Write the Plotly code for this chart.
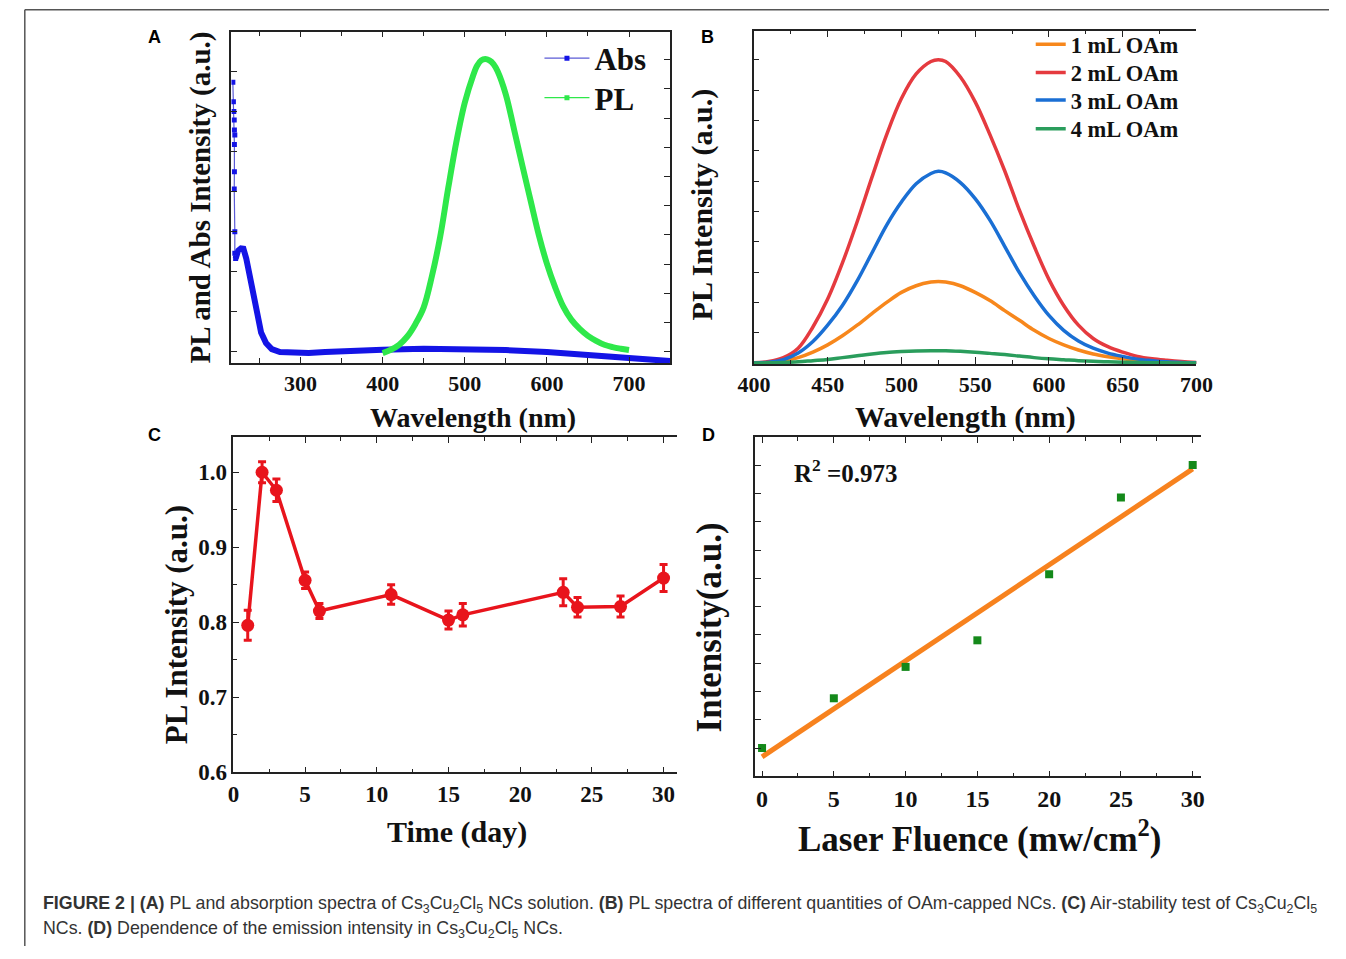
import numpy as np
import plotly.graph_objects as go

W, H = 1346, 959
SERIF = "Liberation Serif, Times New Roman, serif"
SANS = "Liberation Sans, Arial, sans-serif"

# ---------------- Panel A data ----------------
abs_noisy_wl = [217.6, 218.3, 218.8, 219.3, 219.5, 220.0, 219.5, 219.5, 219.3, 220.0, 220.0, 221.0]
abs_noisy_v = [0.847, 0.788, 0.759, 0.733, 0.703, 0.688, 0.659, 0.577, 0.525, 0.396, 0.331, 0.315]
abs_wl = [221, 224, 227.5, 230.5, 234, 238, 242, 247, 252, 258, 265, 275, 290, 310, 330, 350,
          400, 450, 500, 550, 600, 650, 700, 750]
abs_v = [0.315, 0.339, 0.346, 0.345, 0.315, 0.262, 0.202, 0.143, 0.092, 0.060, 0.042, 0.033,
         0.030, 0.030, 0.033, 0.036, 0.040, 0.043, 0.043, 0.039, 0.033, 0.024, 0.015, 0.006]
pl_wl = [400, 410, 420, 430, 440, 450, 460, 470, 480, 490, 500, 510, 515, 520, 525, 530, 535,
         540, 550, 560, 570, 580, 590, 600, 610, 620, 630, 640, 650, 660, 670, 680, 690, 700]
pl_v = [0.030, 0.040, 0.055, 0.080, 0.118, 0.168, 0.262, 0.380, 0.530, 0.670, 0.785, 0.866,
        0.897, 0.913, 0.917, 0.913, 0.902, 0.880, 0.810, 0.705, 0.597, 0.492, 0.388, 0.300,
        0.229, 0.170, 0.130, 0.103, 0.082, 0.067, 0.055, 0.048, 0.043, 0.039]

# ---------------- Panel B data ----------------
b_wl = [400, 410, 420, 430, 440, 450, 460, 470, 480, 490, 500, 510, 520, 525, 530, 540, 550,
        560, 570, 580, 590, 600, 610, 620, 630, 640, 650, 660, 670, 680, 690, 700]
b_1ml = [0.000, 0.002, 0.008, 0.018, 0.036, 0.060, 0.090, 0.125, 0.163, 0.200, 0.233, 0.255,
         0.267, 0.269, 0.267, 0.255, 0.233, 0.206, 0.173, 0.141, 0.108, 0.081, 0.060, 0.043,
         0.030, 0.021, 0.014, 0.009, 0.005, 0.003, 0.001, 0.000]
b_2ml = [0.001, 0.005, 0.018, 0.049, 0.119, 0.211, 0.330, 0.466, 0.612, 0.753, 0.872, 0.953,
         0.994, 1.000, 0.994, 0.943, 0.861, 0.753, 0.634, 0.504, 0.385, 0.276, 0.190, 0.125,
         0.081, 0.054, 0.036, 0.022, 0.014, 0.009, 0.005, 0.002]
b_3ml = [0.000, 0.003, 0.011, 0.033, 0.071, 0.125, 0.190, 0.271, 0.363, 0.455, 0.531, 0.591,
         0.625, 0.632, 0.627, 0.595, 0.542, 0.471, 0.385, 0.298, 0.222, 0.157, 0.108, 0.073,
         0.049, 0.033, 0.022, 0.013, 0.008, 0.004, 0.002, 0.001]
b_4ml = [0.000, 0.001, 0.002, 0.004, 0.008, 0.012, 0.018, 0.024, 0.030, 0.035, 0.038, 0.040,
         0.041, 0.041, 0.041, 0.039, 0.036, 0.032, 0.028, 0.023, 0.018, 0.014, 0.011, 0.008,
         0.006, 0.004, 0.003, 0.002, 0.001, 0.001, 0.000, 0.000]
b_names = ["1 mL OAm", "2 mL OAm", "3 mL OAm", "4 mL OAm"]
b_colors = ["#f7871c", "#e53a3f", "#1a6fd4", "#2a9d5c"]

# ---------------- Panel C data ----------------
c_day = [1, 2, 3, 5, 6, 11, 15, 16, 23, 24, 27, 30]
c_pl = [0.796, 1.000, 0.976, 0.856, 0.815, 0.837, 0.803, 0.810, 0.840, 0.820, 0.821, 0.859]
c_err = [0.020, 0.014, 0.015, 0.011, 0.010, 0.013, 0.012, 0.015, 0.018, 0.013, 0.014, 0.018]

# ---------------- Panel D data ----------------
d_fluence = [0, 5, 10, 15, 20, 25, 30]
d_int = [1.00, 2.76, 3.87, 4.81, 7.15, 9.86, 11.01]
d_r2 = "0.973"


def X(px):
    return px / W


def Y(py):
    return 1 - py / H


fig = go.Figure()

# ---- A traces
fig.add_trace(go.Scatter(x=abs_wl, y=abs_v, mode="lines", line=dict(color="#1414e6", width=6),
                         showlegend=False, xaxis="x", yaxis="y"))
fig.add_trace(go.Scatter(x=abs_noisy_wl, y=abs_noisy_v, mode="lines+markers", name="Abs",
                         line=dict(color="#5b5bd6", width=1.2),
                         marker=dict(symbol="square", size=5, color="#1414e6"),
                         legend="legend", xaxis="x", yaxis="y"))
fig.add_trace(go.Scatter(x=pl_wl, y=pl_v, mode="lines", line=dict(color="#2ee84a", width=6, shape="spline"),
                         showlegend=False, xaxis="x", yaxis="y2"))
fig.add_trace(go.Scatter(x=[None], y=[None], mode="lines+markers", name="PL",
                         line=dict(color="#2ee84a", width=1.2),
                         marker=dict(symbol="square", size=5, color="#2ee84a"),
                         legend="legend2", xaxis="x", yaxis="y2"))

# ---- B traces (one legend box per entry so the spacing follows the reference)
for i, (vals, nm, col) in enumerate(zip([b_1ml, b_2ml, b_3ml, b_4ml], b_names, b_colors)):
    fig.add_trace(go.Scatter(x=b_wl, y=vals, mode="lines", name=nm,
                             line=dict(color=col, width=3.5, shape="spline"),
                             legend="legend%d" % (i + 3), xaxis="x3", yaxis="y3"))

# ---- C traces
fig.add_trace(go.Scatter(x=c_day, y=c_pl, mode="lines+markers", showlegend=False,
                         line=dict(color="#e8141c", width=3.5),
                         marker=dict(symbol="circle", size=13, color="#e8141c"),
                         error_y=dict(type="data", array=c_err, visible=True, color="#e8141c",
                                      thickness=3, width=4),
                         xaxis="x5", yaxis="y5"))

# ---- D traces
slope, intercept = np.polyfit(d_fluence, d_int, 1)
fit_x = [d_fluence[0], d_fluence[-1]]
fit_y = [intercept + slope * v for v in fit_x]
fig.add_trace(go.Scatter(x=fit_x, y=fit_y, mode="lines", showlegend=False,
                         line=dict(color="#f7821e", width=5), xaxis="x7", yaxis="y7"))
fig.add_trace(go.Scatter(x=d_fluence, y=d_int, mode="markers", showlegend=False,
                         marker=dict(symbol="square", size=8, color="#14891a"),
                         xaxis="x7", yaxis="y7"))

AX = dict(showgrid=False, zeroline=False, showline=True, linecolor="#222", linewidth=1.5,
          ticks="inside", tickcolor="#222", tickwidth=1.3)
TF = lambda s: dict(family=SERIF, size=s, color="#111", weight="bold")
MINOR = lambda d, l: dict(dtick=d, ticklen=l, ticks="inside", tickcolor="#222")


def LEG(x, y, size, iw):
    return dict(x=X(x), y=Y(y), xanchor="left", yanchor="top", bgcolor="rgba(0,0,0,0)",
                font=dict(family=SERIF, size=size, color="#111", weight="bold"),
                itemwidth=iw, tracegroupgap=0)


fig.update_layout(
    width=W, height=H, autosize=False, margin=dict(l=0, r=0, t=0, b=0),
    paper_bgcolor="white", plot_bgcolor="white", showlegend=True,
    # A
    xaxis=dict(AX, domain=[X(220), X(670)], range=[215.9, 750], anchor="y", tick0=0, dtick=100,
               ticklen=6, mirror="ticks", minor=MINOR(50, 5), tickfont=TF(22)),
    yaxis=dict(AX, domain=[Y(368), Y(32)], range=[0, 1], anchor="x", tick0=0.0357, dtick=0.1205,
               ticklen=6, showticklabels=False),
    yaxis2=dict(AX, overlaying="y", side="right", anchor="x", range=[0, 1], tick0=0.0336,
                dtick=0.0882, ticklen=6, showticklabels=False),
    # B
    xaxis3=dict(AX, domain=[X(756), X(1210)], range=[400, 700], anchor="y3", tick0=0, dtick=50,
                ticklen=7, mirror="ticks", minor=MINOR(25, 4), tickfont=TF(22)),
    yaxis3=dict(AX, domain=[Y(369), Y(31)], range=[-0.003, 1.096], anchor="x3", tick0=0, dtick=0.1,
                ticklen=5, showticklabels=False),
    yaxis4=dict(AX, overlaying="y3", side="right", anchor="x3", range=[-0.003, 1.096], tick0=0.107,
                dtick=0.1097, ticklen=5, showticklabels=False),
    # C
    xaxis5=dict(AX, domain=[X(222), X(677)], range=[0, 30.93], anchor="y5", tick0=0, dtick=5,
                ticklen=6, mirror="ticks", minor=MINOR(2.5, 4), tickfont=TF(23)),
    yaxis5=dict(AX, domain=[Y(783), Y(443)], range=[0.6, 1.047], anchor="x5", tick0=0.6, dtick=0.1,
                ticklen=6, tickformat=".1f", minor=MINOR(0.05, 4), tickfont=TF(23)),
    yaxis6=dict(AX, overlaying="y5", side="right", anchor="x5", range=[0.6, 1.047], tick0=0.6,
                dtick=0.0449, ticklen=5, showticklabels=False),
    # D
    xaxis7=dict(AX, domain=[X(757), X(1215)], range=[-0.5, 30.6], anchor="y7", tick0=0, dtick=5,
                ticklen=6, mirror="ticks", minor=MINOR(2.5, 4), tickfont=TF(24)),
    yaxis7=dict(AX, domain=[Y(787), Y(443)], range=[0, 12], anchor="x7", tick0=0, dtick=1,
                ticklen=6, showticklabels=False),
    yaxis8=dict(AX, overlaying="y7", side="right", anchor="x7", range=[0, 12], tick0=0.02,
                dtick=1.2, ticklen=5, showticklabels=False),
    legend=LEG(536, 32, 31, 45),
    legend2=LEG(536, 72, 31, 45),
    legend3=LEG(1040, 23.5, 22.5, 30),
    legend4=LEG(1040, 52, 22.5, 30),
    legend5=LEG(1040, 80, 22.5, 30),
    legend6=LEG(1040, 109, 22.5, 30),
)

annots = []


def txt(x, y, s, size, family=SERIF, angle=0, xanchor="center", color="#111"):
    annots.append(dict(x=X(x), y=Y(y), xref="paper", yref="paper", text=s, showarrow=False,
                       textangle=angle, xanchor=xanchor, yanchor="middle",
                       font=dict(family=family, size=size, color=color)))


# axis titles
txt(468, 423, "<b>Wavelength (nm)</b>", 28)
txt(188, 200, "<b>PL and Abs Intensity (a.u.)</b>", 29, angle=-90)
txt(973, 423, "<b>Wavelength (nm)</b>", 30)
txt(703, 207, "<b>PL Intensity (a.u.)</b>", 30, angle=-90)
txt(451, 843, "<b>Time (day)</b>", 30)
txt(164, 633, "<b>PL Intensity (a.u.)</b>", 31, angle=-90)
txt(987, 848, "<b>Laser Fluence (mw/cm<sup>2</sup>)</b>", 35)
txt(710, 636, "<b>Intensity(a.u.)</b>", 35, angle=-90)
txt(795, 477, "<b>R<sup>2</sup> =" + d_r2 + "</b>", 25, xanchor="left")

# panel letters
for lx, ly, lt in [(141, 38, "A"), (708, 38, "B"), (141, 441, "C"), (709, 441, "D")]:
    txt(lx, ly, "<b>" + lt + "</b>", 18, family=SANS, color="#000")

cs = "Cs<sub>3</sub>Cu<sub>2</sub>Cl<sub>5</sub>"
cap1 = ("<b>FIGURE 2 | (A)</b> PL and absorption spectra of " + cs + " NCs solution. <b>(B)</b> PL spectra of "
        "different quantities of OAm-capped NCs. <b>(C)</b> Air-stability test of " + cs)
cap2 = "NCs. <b>(D)</b> Dependence of the emission intensity in " + cs + " NCs."
txt(25, 917, cap1, 17.8, family=SANS, xanchor="left", color="#333")
txt(25, 942, cap2, 17.8, family=SANS, xanchor="left", color="#333")

fig.update_layout(annotations=annots)

# outer frame of the figure panel
fig.add_shape(type="line", xref="paper", yref="paper", x0=X(8), x1=X(1346), y0=Y(10), y1=Y(10),
              line=dict(color="#555", width=1.5))
fig.add_shape(type="line", xref="paper", yref="paper", x0=X(8), x1=X(8), y0=Y(10), y1=Y(959),
              line=dict(color="#555", width=1.5))

fig.write_html("out.html", config={"displayModeBar": False},
               post_script="document.body.style.margin='0px';document.body.style.overflow='hidden';")
